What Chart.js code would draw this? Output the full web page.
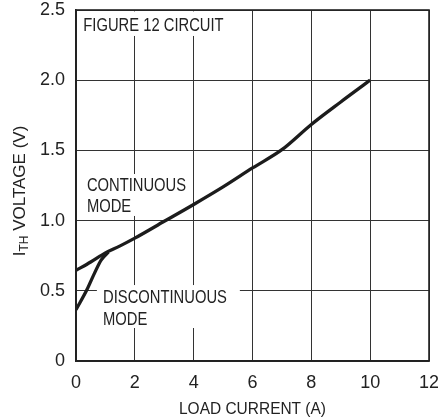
<!DOCTYPE html>
<html>
<head>
<meta charset="utf-8">
<script src="https://cdn.jsdelivr.net/npm/chart.js@4"></script>
<style>
html,body{margin:0;padding:0;background:#fff;}
#wrap{width:438px;height:420px;}
</style>
</head>
<body>
<div id="wrap"><canvas id="c" width="438" height="420"></canvas></div>
<script>
const FONT = '"Liberation Sans", Arial, Helvetica, sans-serif';
const TEXT = '#222';

// Data
const continuousX = [0, 0.5, 1, 1.5, 2, 3, 4, 5, 6, 7, 8, 9, 10];
const continuousY = [0.645, 0.705, 0.77, 0.82, 0.875, 0.995, 1.115, 1.24, 1.375, 1.505, 1.685, 1.845, 2.0];
const discontinuousX = [0, 0.37, 0.63, 0.86, 1.1];
const discontinuousY = [0.365, 0.507, 0.626, 0.72, 0.775];

const xTickValues = [0, 2, 4, 6, 8, 10, 12];
const xTickLabels = ['0', '2', '4', '6', '8', '10', '12'];
const yTickValues = [0, 0.5, 1.0, 1.5, 2.0, 2.5];
const yTickLabels = ['0', '0.5', '1.0', '1.5', '2.0', '2.5'];

const xTitle = 'LOAD CURRENT (A)';
const yTitleMain = 'I';
const yTitleSub = 'TH';
const yTitleRest = ' VOLTAGE (V)';

const annotationLines = [
  ['FIGURE 12 CIRCUIT'],
  ['CONTINUOUS', 'MODE'],
  ['DISCONTINUOUS', 'MODE']
];
// anchor (data units) and white knock-out box [x0, yTop, x1, yBottom] in data units
const annotationAnchors = [[0.25, 2.35], [0.37, 1.21], [0.92, 0.41]];
const annotationBoxes = [[0.07, 2.49, 5.03, 2.315], [0.27, 1.332, 3.94, 1.033], [0.71, 0.541, 5.57, 0.235]];
const annotationLineGap = [0, 20.7, 21.7];

const pts = (xs, ys) => xs.map((x, i) => ({x, y: ys[i]}));

function condensedText(ctx, str, x, y, size, k, align) {
  ctx.save();
  ctx.font = size + 'px ' + FONT;
  const w = ctx.measureText(str).width * k;
  let sx = x;
  if (align === 'center') sx = x - w / 2;
  ctx.translate(sx, y);
  ctx.scale(k, 1);
  ctx.textAlign = 'left';
  ctx.fillText(str, 0, 0);
  ctx.restore();
}

const annotationPlugin = {
  id: 'annot',
  beforeDatasetsDraw(chart) {
    const {ctx, scales: {x, y}} = chart;
    ctx.save();
    annotationLines.forEach((lines, i) => {
      const [x0, y0, x1, y1] = annotationBoxes[i];
      const px0 = x.getPixelForValue(x0), py0 = y.getPixelForValue(y0);
      const px1 = x.getPixelForValue(x1), py1 = y.getPixelForValue(y1);
      ctx.fillStyle = '#fff';
      ctx.fillRect(px0, py0, px1 - px0, py1 - py0);
      ctx.fillStyle = TEXT;
      ctx.textBaseline = 'alphabetic';
      const lx = x.getPixelForValue(annotationAnchors[i][0]);
      const ly = y.getPixelForValue(annotationAnchors[i][1]);
      lines.forEach((l, j) => condensedText(ctx, l, lx, ly + j * annotationLineGap[i], 18, 0.82, 'left'));
    });
    ctx.restore();
  },
  afterDraw(chart) {
    const {ctx, chartArea: ca} = chart;
    ctx.save();
    ctx.strokeStyle = '#222';
    ctx.lineWidth = 1.6;
    ctx.strokeRect(ca.left, ca.top, ca.right - ca.left, ca.bottom - ca.top);
    ctx.fillStyle = TEXT;
    ctx.textBaseline = 'alphabetic';
    // x axis title
    condensedText(ctx, xTitle, (ca.left + ca.right) / 2, 413.5, 17, 0.91, 'center');
    // y axis title with subscript
    ctx.translate(25, 191);
    ctx.rotate(-Math.PI / 2);
    ctx.textAlign = 'left';
    const big = '17px ' + FONT, small = '12px ' + FONT;
    ctx.font = big; const w1 = ctx.measureText(yTitleMain).width;
    ctx.font = small; const w2 = ctx.measureText(yTitleSub).width;
    ctx.font = big; const w3 = ctx.measureText(yTitleRest).width;
    let sx = -(w1 + w2 + w3) / 2;
    ctx.font = big; ctx.fillText(yTitleMain, sx, 0); sx += w1;
    ctx.font = small; ctx.fillText(yTitleSub, sx, 3); sx += w2;
    ctx.font = big; ctx.fillText(yTitleRest, sx, 0);
    ctx.restore();
  }
};

new Chart(document.getElementById('c'), {
  type: 'line',
  data: {
    datasets: [
      {label: 'Continuous mode', data: pts(continuousX, continuousY), borderColor: '#1c1c1c', borderWidth: 3.3, pointRadius: 0, cubicInterpolationMode: 'monotone', fill: false},
      {label: 'Discontinuous mode', data: pts(discontinuousX, discontinuousY), borderColor: '#1c1c1c', borderWidth: 3.3, pointRadius: 0, cubicInterpolationMode: 'monotone', fill: false}
    ]
  },
  options: {
    responsive: false,
    animation: false,
    devicePixelRatio: 1,
    layout: {padding: {top: 10, right: 9, left: 0, bottom: 0}},
    plugins: {legend: {display: false}, tooltip: {enabled: false}},
    scales: {
      x: {
        type: 'linear', min: 0, max: 12,
        afterFit(s) { s.height = 59; s.paddingLeft = 0; s.paddingRight = 0; },
        afterBuildTicks(s) { s.ticks = xTickValues.map(v => ({value: v})); },
        ticks: {
          color: TEXT, font: {family: FONT, size: 18}, padding: 11, maxRotation: 0,
          callback: (v) => xTickLabels[xTickValues.indexOf(v)]
        },
        grid: {color: '#333', lineWidth: 1, drawTicks: false},
        border: {color: '#222', width: 1.6}
      },
      y: {
        type: 'linear', min: 0, max: 2.5,
        afterFit(s) { s.width = 76; s.paddingTop = 0; s.paddingBottom = 0; },
        afterBuildTicks(s) { s.ticks = yTickValues.map(v => ({value: v})); },
        ticks: {
          color: TEXT, font: {family: FONT, size: 18}, padding: 11,
          callback: (v) => yTickLabels[yTickValues.indexOf(v)]
        },
        grid: {color: '#333', lineWidth: 1, drawTicks: false},
        border: {color: '#222', width: 1.6}
      }
    }
  },
  plugins: [annotationPlugin]
});
</script>
</body>
</html>
